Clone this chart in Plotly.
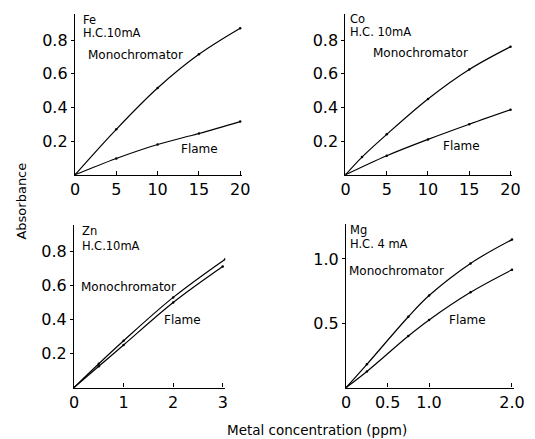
import plotly.graph_objects as go

# Calibration curves: absorbance vs. metal concentration (ppm)
fe_conc = [0, 5, 10, 15, 20]
fe_mono = [0, 0.27, 0.515, 0.715, 0.87]
fe_flame = [0, 0.097, 0.18, 0.245, 0.316]

co_conc_mono = [0, 2, 5, 10, 15, 20]
co_mono = [0, 0.105, 0.24, 0.45, 0.625, 0.76]
co_conc_flame = [0, 5, 10, 15, 20]
co_flame = [0, 0.113, 0.21, 0.30, 0.386]

zn_conc_mono = [0, 0.5, 1, 2, 3.05]
zn_mono = [0, 0.14, 0.275, 0.53, 0.755]
zn_conc_flame = [0, 0.5, 1, 2, 3]
zn_flame = [0, 0.125, 0.25, 0.50, 0.712]

mg_conc = [0, 0.25, 0.75, 1.0, 1.5, 2.0]
mg_mono = [0, 0.18, 0.55, 0.715, 0.965, 1.15]
mg_flame = [0, 0.125, 0.40, 0.525, 0.74, 0.915]

W, H = 535, 439
FONT = "DejaVu Sans"


def fx(p):
    return p / W


def fy(p):
    return 1 - p / H


fig = go.Figure()

panels = [
    # (suffix, x mono, y mono, x flame, y flame)
    ("", fe_conc, fe_mono, fe_conc, fe_flame),
    ("2", co_conc_mono, co_mono, co_conc_flame, co_flame),
    ("3", zn_conc_mono, zn_mono, zn_conc_flame, zn_flame),
    ("4", mg_conc, mg_mono, mg_conc, mg_flame),
]

for suf, xm, ym, xf, yf in panels:
    for xs, ys in ((xm, ym), (xf, yf)):
        fig.add_trace(go.Scatter(
            x=xs, y=ys, mode="lines+markers",
            line=dict(color="black", width=1.2, shape="spline", smoothing=1.0),
            marker=dict(color="black", size=2.5),
            xaxis="x" + suf, yaxis="y" + suf, showlegend=False,
            hoverinfo="skip",
        ))

tick_font = dict(family=FONT, size=16, color="black")
common_x = dict(showline=True, linecolor="black", linewidth=1.3, showgrid=False,
                zeroline=False, ticks="inside", ticklen=4, tickcolor="black",
                tickwidth=1, tickfont=tick_font, mirror=False)
common_y = dict(showline=True, linecolor="black", linewidth=1.3, showgrid=False,
                zeroline=False, ticks="outside", ticklen=3, tickcolor="black",
                tickwidth=1, tickfont=tick_font, mirror=False)

# Axis geometry: (x origin px, px per unit, x max), (y origin px, px per unit, y max)
geo = {
    "": ((72, 8.5, 20.2), (174.8, 168.5, 0.955)),
    "2": ((350.3, 8.49, 20.2), (174.8, 168.5, 0.955)),
    "3": ((71, 51.0, 3.05), (387.5, 170.0, 0.955)),
    "4": ((351, 85.3, 2.03), (387.5, 128.6, 1.27)),
}

xticks = {
    "": ([0, 5, 10, 15, 20], ["0", "5", "10", "15", "20"]),
    "2": ([0, 5, 10, 15, 20], ["0", "5", "10", "15", "20"]),
    "3": ([0, 1, 2, 3], ["0", "1", "2", "3"]),
    "4": ([0, 0.5, 1.0, 2.0], ["0", "0.5", "1.0", "2.0"]),
}
yticks = {
    "": ([0.2, 0.4, 0.6, 0.8], ["0.2", "0.4", "0.6", "0.8"]),
    "2": ([0.2, 0.4, 0.6, 0.8], ["0.2", "0.4", "0.6", "0.8"]),
    "3": ([0.2, 0.4, 0.6, 0.8], ["0.2", "0.4", "0.6", "0.8"]),
    "4": ([0.5, 1.0], ["0.5", "1.0"]),
}

layout = {}
for suf, ((x0, sx, xmax), (y0, sy, ymax)) in geo.items():
    xa = dict(common_x)
    xa.update(domain=[fx(x0), fx(x0 + sx * xmax)], range=[0, xmax],
              tickvals=xticks[suf][0], ticktext=xticks[suf][1],
              anchor="y" + suf)
    ya = dict(common_y)
    ya.update(domain=[fy(y0), fy(y0 - sy * ymax)], range=[0, ymax],
              tickvals=yticks[suf][0], ticktext=yticks[suf][1],
              anchor="x" + suf)
    layout["xaxis" + suf] = xa
    layout["yaxis" + suf] = ya

header_font = dict(family=FONT, size=11.5, color="black")
label_font = dict(family=FONT, size=12, color="black")
# Element / lamp-current headers (two tight lines) and curve labels
header = [
    ("Fe", 79, 20), ("H.C.10mA", 79, 33.5),
    ("Co", 354, 19), ("H.C. 10mA", 354, 32.5),
    ("Zn", 78, 231), ("H.C.10mA", 78, 246),
    ("Mg", 354, 230), ("H.C. 4 mA", 354, 244),
]
curve_labels = [
    ("Monochromator", 83, 55), ("Flame", 179, 149),
    ("Monochromator", 377, 53), ("Flame", 449, 146),
    ("Monochromator", 76, 287), ("Flame", 162, 320),
    ("Monochromator", 352, 271), ("Flame", 455, 320),
]
annotations = [
    dict(text=t, x=fx(px), y=fy(py), xref="paper", yref="paper",
         xanchor="left", yanchor="middle", showarrow=False, font=header_font,
         borderpad=0)
    for t, px, py in header
] + [
    dict(text=t, x=fx(px), y=fy(py), xref="paper", yref="paper",
         xanchor="left", yanchor="middle", showarrow=False, font=label_font)
    for t, px, py in curve_labels
]
annotations.append(dict(text="Absorbance", x=fx(16), y=fy(201), xref="paper", yref="paper",
                        xanchor="center", yanchor="middle", textangle=-90, showarrow=False,
                        font=dict(family=FONT, size=13, color="black")))
annotations.append(dict(text="Metal concentration (ppm)", x=fx(321), y=fy(430),
                        xref="paper", yref="paper", xanchor="center", yanchor="middle",
                        showarrow=False, font=dict(family=FONT, size=13.5, color="black")))

fig.update_layout(
    width=W, height=H,
    margin=dict(l=0, r=0, t=0, b=0),
    paper_bgcolor="white", plot_bgcolor="white",
    annotations=annotations,
    **layout,
)

fig.write_html("out.html")
